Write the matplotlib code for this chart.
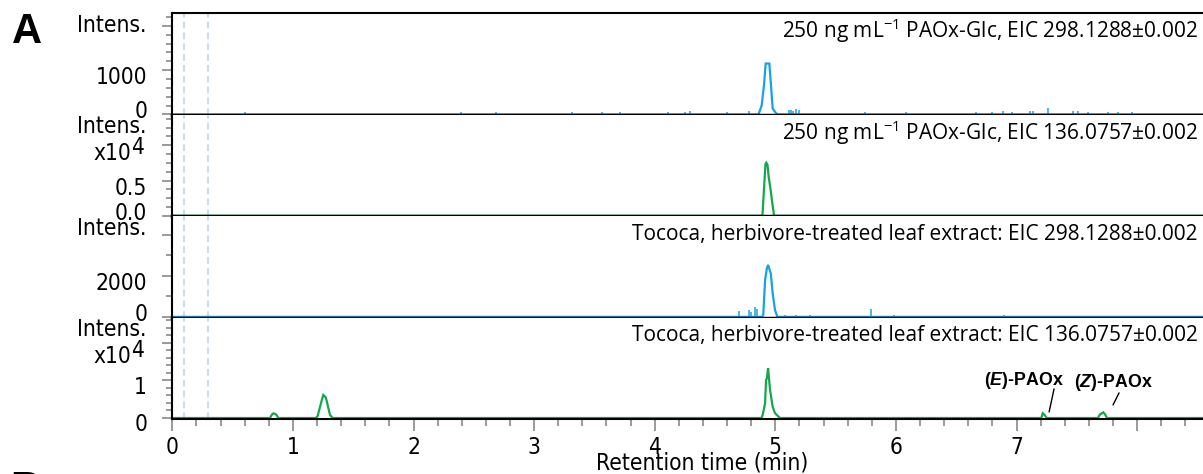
"""Stacked EIC chromatograms: PAOx-Glc standard vs. Tococa leaf extract."""
import matplotlib
matplotlib.use("Agg")
import matplotlib.pyplot as plt
from matplotlib.font_manager import FontProperties
from matplotlib.ticker import FixedLocator, FixedFormatter, MultipleLocator
from matplotlib.transforms import ScaledTranslation

plt.rcParams["mathtext.fontset"] = "custom"
plt.rcParams["mathtext.bfit"] = "Liberation Sans:italic:bold"

BLUE = "#18a2e4"
GREEN = "#14a84c"
TICK_GREY = "#7f7f7f"
GUIDE = "#bcd6ec"

# --- traces: retention time (min) / intensity (counts) ---
std298_t = [0.0, 4.86, 4.887, 4.906, 4.920, 4.950, 4.964, 4.978, 4.997, 5.017, 5.03, 8.6]
std298_v = [0, 0, 205, 660, 1150, 1150, 660, 136, 60, 0, 0, 0]
std298_spike_t = [0.60, 2.39, 2.68, 3.31, 3.56, 3.71, 4.11, 4.25, 4.29, 4.60, 4.78,
                  5.11, 5.13, 5.15, 5.17, 5.20, 5.74, 6.08, 6.66, 6.80, 6.89, 6.96,
                  7.11, 7.14, 7.26, 7.47, 7.51, 7.59, 7.76, 7.84, 7.96, 5.02]
std298_spike_v = [50, 55, 60, 60, 55, 55, 55, 65, 70, 65, 70,
                  90, 110, 80, 130, 110, 60, 60, 65, 60, 75, 65,
                  80, 70, 140, 70, 75, 65, 65, 60, 60, -60]

std136_t = [0.0, 4.893, 4.905, 4.918, 4.925, 4.935, 4.945, 4.960, 4.975, 4.990, 8.6]
std136_v = [0, 0, 3500, 7300, 7530, 7250, 5500, 3800, 1800, 0, 0]

leaf298_t = [0.0, 4.89, 4.90, 4.915, 4.93, 4.94, 4.962, 4.978, 4.997, 5.017, 8.6]
leaf298_v = [0, 0, 100, 1800, 2375, 2537, 2130, 1150, 340, 0, 0]
leaf298_spike_t = [2.33, 4.54, 4.70, 4.78, 4.80, 4.83, 4.85, 4.87, 5.08, 5.17, 5.29, 5.79, 5.98, 6.90]
leaf298_spike_v = [60, 60, 300, 330, 250, 500, 380, -180, 80, 80, 70, 380, 100, 80]

leaf136_t = [0.0, 0.81, 0.825, 0.838, 0.85, 0.862, 0.879,
             1.19, 1.205, 1.225, 1.24, 1.252, 1.262, 1.272, 1.282, 1.294, 1.308, 1.33,
             4.885, 4.895, 4.915, 4.923, 4.93, 4.94, 4.956, 4.978, 4.997, 5.025, 5.04,
             7.205, 7.217, 7.236, 7.25,
             7.675, 7.69, 7.72, 7.735, 7.75, 8.6]
leaf136_v = [0, 0, 900, 1250, 1100, 900, 0,
             0, 500, 3000, 4800, 6100, 5800, 5500, 4300, 2600, 800, 0,
             0, 800, 3900, 10100, 10500, 13250, 7500, 3000, 1300, 400, 0,
             0, 1250, 700, 0,
             0, 900, 1500, 900, 0, 0]

titles = [
    r"250 ng mL$^{\mathregular{-1}}$ PAOx-Glc, EIC 298.1288±0.002",
    r"250 ng mL$^{\mathregular{-1}}$ PAOx-Glc, EIC 136.0757±0.002",
    "Tococa, herbivore-treated leaf extract: EIC 298.1288±0.002",
    "Tococa, herbivore-treated leaf extract: EIC 136.0757±0.002",
]
x_major = [0, 1, 2, 3, 4, 5, 6, 7, 8]
x_labels = ["0", "1", "2", "3", "4", "5", "6", "7", ""]
guide_t = [0.1, 0.3]

W, H = 1203, 474
TICKFONT = dict(family="DejaVu Sans", stretch="condensed", size=16.3)
TITLEFONT = dict(family="Open Sans", size=15)

panels = [
    dict(t=std298_t, v=std298_v, st=std298_spike_t, sv=std298_spike_v, color=BLUE,
         ylim=(-12, 2290), major=[0, 1000, 2000], labels=["0", "1000", ""], minor=200, scale=False),
    dict(t=std136_t, v=std136_v, st=[], sv=[], color=GREEN,
         ylim=(-100, 14300), major=[0, 5000, 10000], labels=["0.0", "0.5", ""], minor=1250, scale=True),
    dict(t=leaf298_t, v=leaf298_v, st=leaf298_spike_t, sv=leaf298_spike_v, color=BLUE,
         ylim=(-30, 4900), major=[0, 2000, 4000], labels=["0", "2000", ""], minor=1000, scale=False),
    dict(t=leaf136_t, v=leaf136_v, st=[], sv=[], color=GREEN,
         ylim=(-130, 26670), major=[0, 10000, 20000], labels=["0", "1", ""], minor=2000, scale=True),
]

fig = plt.figure(figsize=(W / 100, H / 100), dpi=100)
edges = [13, 115, 216.5, 317.5, 418.5]
left = 172.3 / W
axes = []
for i, p in enumerate(panels):
    bottom = 1 - edges[i + 1] / H
    height = (edges[i + 1] - edges[i]) / H
    ax = fig.add_axes([left, bottom, 1 - left, height], sharex=axes[0] if axes else None)
    axes.append(ax)

    ax.plot(p["t"], p["v"], color=p["color"], lw=1.6, zorder=2, solid_joinstyle="miter")
    if p["st"]:
        ax.vlines(p["st"], 0, p["sv"], color=p["color"], lw=1.1, zorder=2)
    for g in guide_t:
        ax.axvline(g, color=GUIDE, lw=1.2, ls=(0, (4, 2.5)), zorder=1)

    ax.set_ylim(*p["ylim"])
    ax.yaxis.set_major_locator(FixedLocator(p["major"]))
    ax.yaxis.set_major_formatter(FixedFormatter(p["labels"]))
    ax.yaxis.set_minor_locator(MultipleLocator(p["minor"]))
    ax.tick_params(axis="y", which="major", length=7.2, width=1.1, color=TICK_GREY, pad=11)
    ax.tick_params(axis="y", which="minor", length=4.3, width=1.1, color=TICK_GREY)
    for lab in ax.get_yticklabels():
        lab.set_fontproperties(FontProperties(**TICKFONT))

    ax.spines["right"].set_visible(False)
    ax.spines["left"].set_linewidth(1.5)
    if i == 0:
        ax.spines["top"].set_linewidth(1.5)
    else:
        ax.spines["top"].set_visible(False)
    ax.spines["bottom"].set_linewidth(2.5 if i < 3 else 1.5)
    ax.spines["bottom"].set_zorder(3)

    ax.annotate("Intens.", xy=(0, 1), xycoords="axes fraction", xytext=(-26, -12),
                textcoords="offset pixels", ha="right", va="center", **TICKFONT)
    if p["scale"]:
        ax.annotate("x10", xy=(0, 1), xycoords="axes fraction", xytext=(-41, -39),
                    textcoords="offset pixels", ha="right", va="center", **TICKFONT)
        ax.annotate("4", xy=(0, 1), xycoords="axes fraction", xytext=(-28, -33),
                    textcoords="offset pixels", ha="right", va="center", **TICKFONT)
    ax.annotate(titles[i], xy=(1, 1), xycoords="axes fraction", xytext=(-5, -18),
                textcoords="offset pixels", ha="right", va="center", **TITLEFONT)

    # nudge tick labels: zeros sit above the panel seam, others a little below the tick
    for val, tick in zip(p["major"], ax.yaxis.get_major_ticks()):
        if val == 0:
            dy = 5 if i < 3 else -4
        else:
            dy = -5
        tick.label1.set_transform(tick.label1.get_transform()
                                  + ScaledTranslation(0, dy / 100, fig.dpi_scale_trans))

    if i < 3:
        ax.tick_params(axis="x", which="both", bottom=False, labelbottom=False)

ax = axes[-1]
ax.set_xlim(0, 8.546)
ax.xaxis.set_major_locator(FixedLocator(x_major))
ax.xaxis.set_major_formatter(FixedFormatter(x_labels))
ax.xaxis.set_minor_locator(MultipleLocator(0.2))
ax.tick_params(axis="x", which="major", length=8.4, width=1.1, color=TICK_GREY, pad=4)
ax.tick_params(axis="x", which="minor", length=5, width=1.1, color=TICK_GREY)
for lab in ax.get_xticklabels():
    lab.set_fontproperties(FontProperties(**TICKFONT))

# peak labels for the oxime isomers, with short leader lines
lab_kw = dict(family="Liberation Sans", weight="bold", size=12.8, ha="center", va="center")
line_kw = dict(arrowprops=dict(arrowstyle="-", color="black", lw=1.0, shrinkA=0, shrinkB=0))
ax.text(7.06, 9870, r"($\mathbfit{E}$)-PAOx", **lab_kw)
ax.annotate("", xy=(7.27, 1600), xytext=(7.311, 7730), **line_kw)
ax.text(7.80, 9330, r"($\mathbfit{Z}$)-PAOx", **lab_kw)
ax.annotate("", xy=(7.80, 3470), xytext=(7.85, 6670), **line_kw)

fig.text(702 / W, 1 - 470 / H, "Retention time (min)", ha="center", va="baseline", **TICKFONT)
fig.text(12 / W, 1 - 43 / H, "A", family="Liberation Sans", weight="bold", size=30,
         va="baseline", ha="left")
fig.text(10 / W, 1 - 501 / H, "B", family="Liberation Sans", weight="bold", size=30,
         va="baseline", ha="left")

fig.savefig("out.png", dpi=100)
